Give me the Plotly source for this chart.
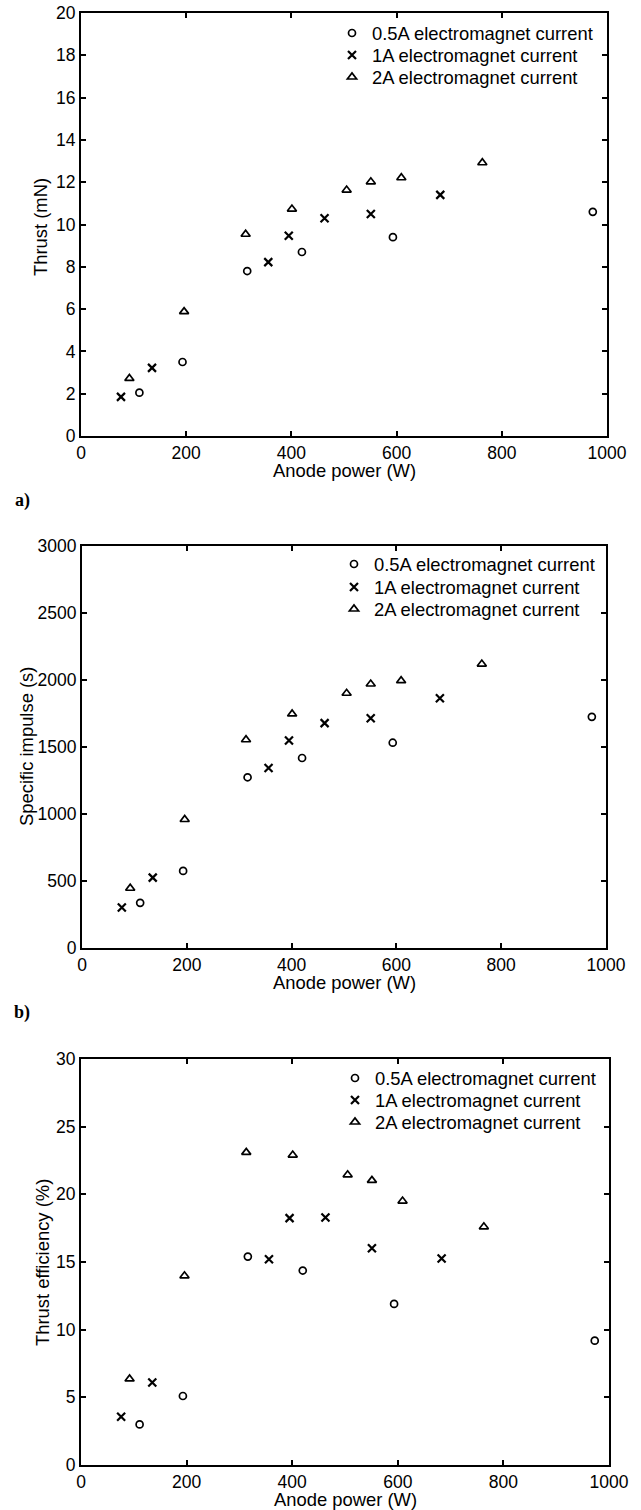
import plotly.graph_objects as go

# ---- data ----
power_05A = [111, 193, 316, 420, 593, 973]
power_1A = [76, 135, 356, 395, 463, 551, 683]
power_2A = [92, 196, 313, 401, 505, 551, 609, 763]

thrust_05A = [2.05, 3.5, 7.8, 8.7, 9.4, 10.6]
thrust_1A = [1.85, 3.22, 8.22, 9.47, 10.3, 10.5, 11.4]
thrust_2A = [2.72, 5.88, 9.54, 10.73, 11.63, 12.02, 12.21, 12.92]

isp_05A = [337, 575, 1274, 1418, 1532, 1725]
isp_1A = [302, 525, 1343, 1549, 1678, 1715, 1864]
isp_2A = [446, 959, 1554, 1747, 1901, 1970, 1995, 2119]

eff_05A = [3.0, 5.1, 15.4, 14.37, 11.9, 9.19]
eff_1A = [3.57, 6.09, 15.21, 18.24, 18.29, 16.02, 15.26]
eff_2A = [6.36, 13.98, 23.1, 22.9, 21.44, 21.03, 19.5, 17.6]

series_names = ["0.5A electromagnet current", "1A electromagnet current", "2A electromagnet current"]
x_title = "Anode power (W)"
y_titles = ["Thrust (mN)", "Specific impulse (s)", "Thrust efficiency (%)"]
y_ranges = [[0, 20], [0, 3000], [0, 30]]
y_dticks = [2, 500, 5]
panel_labels = ["a)", "b)"]

W, H = 641, 1510
FONT = "Liberation Sans, Arial, sans-serif"
FS_TICK = 17.5
FS_TEXT = 18.4


def px(x):
    return x / W


def py(y):
    return 1 - y / H


# pixel geometry of each panel (left, right, top, bottom)
panels = [(81, 607, 13, 436), (82, 606, 546, 948), (81, 609, 1059, 1465)]
# legend rows (marker centre x, row centre y)
legend_marker_x = [352, 354, 355]
legend_rows = [[33, 55, 77], [564, 587, 609], [1078, 1100, 1122]]
# axis-title placement (y-title centre x, y-title centre y)
ytitle_x = [40, 26, 42]
ytitle_y = [227, 747, 1263]

data = [
    (thrust_05A, thrust_1A, thrust_2A),
    (isp_05A, isp_1A, isp_2A),
    (eff_05A, eff_1A, eff_2A),
]
powers = [power_05A, power_1A, power_2A]
symbols = [
    dict(symbol="circle-open", size=7, line=dict(width=1.7, color="black"), color="black"),
    dict(symbol="x-thin-open", size=8, line=dict(width=2.2, color="black"), color="black"),
    dict(symbol="triangle-up-open", size=8, line=dict(width=1.7, color="black"), color="black"),
]

fig = go.Figure()
layout = dict(
    template="none",
    width=W, height=H, margin=dict(l=0, r=0, t=0, b=0, autoexpand=False),
    paper_bgcolor="white", plot_bgcolor="white",
    font=dict(family=FONT, size=FS_TEXT, color="black"),
)

ITEM_HALF = (FS_TEXT * 1.3 + 3) / 2 + 5  # plotly legend: top -> first item centre

annotations = []
leg_idx = 0
for i, (l, r, t, b) in enumerate(panels):
    sfx = "" if i == 0 else str(i + 1)
    for j in range(3):
        leg_idx += 1
        leg = "legend" if leg_idx == 1 else f"legend{leg_idx}"
        fig.add_trace(go.Scatter(
            x=powers[j], y=data[i][j], mode="markers", name=series_names[j],
            marker=symbols[j], xaxis=f"x{sfx}", yaxis=f"y{sfx}", legend=leg,
            showlegend=True,
        ))
        layout[leg] = dict(
            x=px(legend_marker_x[i] - 20), xanchor="left",
            y=py(legend_rows[i][j] - ITEM_HALF), yanchor="top",
            bgcolor="rgba(0,0,0,0)", borderwidth=0,
            font=dict(family=FONT, size=FS_TEXT, color="black"),
        )
    axcommon = dict(
        showline=True, linewidth=2, linecolor="black", mirror="ticks",
        ticks="inside", ticklen=5, tickwidth=1.5, tickcolor="black",
        showgrid=False, zeroline=False, automargin=False,
        ticklabeloverflow="allow",
        tickfont=dict(family=FONT, size=FS_TICK, color="black"),
    )
    layout[f"xaxis{sfx}"] = dict(
        axcommon, domain=[px(l), px(r)], range=[0, 1000], dtick=200, tick0=0,
        anchor=f"y{sfx}",
    )
    layout[f"yaxis{sfx}"] = dict(
        axcommon, domain=[py(b), py(t)], range=y_ranges[i], dtick=y_dticks[i], tick0=0,
        anchor=f"x{sfx}",
    )
    # axis titles
    annotations.append(dict(
        text=x_title, x=px((l + r) / 2), y=py(b + 34), xref="paper", yref="paper",
        xanchor="center", yanchor="middle", showarrow=False,
        font=dict(family=FONT, size=FS_TEXT, color="black"),
    ))
    annotations.append(dict(
        text=y_titles[i], x=px(ytitle_x[i]), y=py(ytitle_y[i]), xref="paper", yref="paper",
        xanchor="center", yanchor="middle", showarrow=False, textangle=-90,
        font=dict(family=FONT, size=FS_TEXT, color="black"),
    ))

label_pos = [501, 1012]
for lab, yp in zip(panel_labels, label_pos):
    annotations.append(dict(
        text=f"<b>{lab}</b>", x=px(22), y=py(yp), xref="paper", yref="paper",
        xanchor="center", yanchor="middle",
        showarrow=False, font=dict(family="Liberation Serif, Times New Roman, serif", size=18, color="black"),
    ))

layout["annotations"] = annotations
fig.update_layout(**layout)

fig.write_html(
    "out.html",
    config={"displayModeBar": False},
    post_script="document.body.style.margin='0';",
)
